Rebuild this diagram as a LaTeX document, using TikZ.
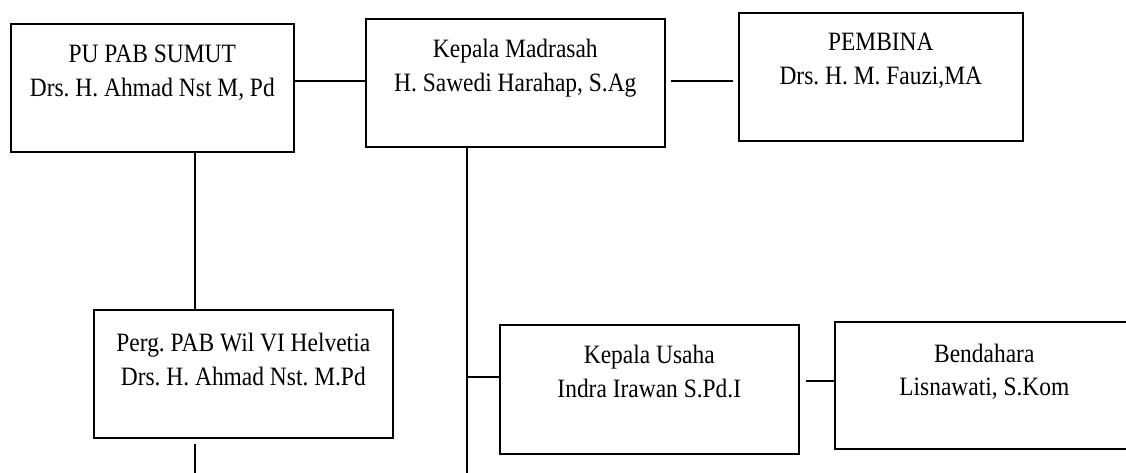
\documentclass[tikz,border=0pt]{standalone}
\usepackage{fontspec}
\setmainfont{Liberation Serif}[FakeStretch=0.885]
\frenchspacing
\newcommand{\orgtext}[4][39pt]{\parbox[c][#3][t]{#2}{\centering\rule{0pt}{#1}#4}}
\begin{document}
\begin{tikzpicture}[x=1pt,y=-1pt,
  orgbox/.style={draw,line width=1.6pt,inner sep=0pt,anchor=north west,font=\fontsize{26.5}{33.6}\selectfont},
  link/.style={line width=1.6pt}]
\useasboundingbox (0,0) rectangle (1126,473);
\node[orgbox](pu) at (10,23){\orgtext{283pt}{128pt}{PU PAB SUMUT\\Drs. H. Ahmad Nst M, Pd}};
\node[orgbox](kepala) at (365,18){\orgtext{299pt}{128pt}{Kepala Madrasah\\H. Sawedi Harahap, S.Ag}};
\node[orgbox](pembina) at (738,12){\orgtext[38pt]{284pt}{128pt}{PEMBINA\\Drs. H. M. Fauzi,MA}};
\node[orgbox](perg) at (93,309){\orgtext[42pt]{299pt}{128pt}{Perg. PAB Wil VI Helvetia\\Drs. H. Ahmad Nst. M.Pd}};
\node[orgbox](usaha) at (499,324){\orgtext{299pt}{129pt}{Kepala Usaha\\Indra Irawan S.Pd.I}};
\node[orgbox](bendahara) at (834,321){\orgtext[40.5pt]{299pt}{127pt}{Bendahara\\Lisnawati, S.Kom}};
% free ends at the bottom edge
\coordinate (trunk) at (195,473);
\coordinate (spine) at (467,473);
\coordinate (kepalaL) at ([yshift=2pt]kepala.west);
\coordinate (kepalaR) at ([yshift=2pt]kepala.east);
\coordinate (usahaIn) at ([yshift=12.5pt]usaha.west);
\coordinate (bendIn) at ([yshift=4.5pt]bendahara.west);
\draw[link](pu.east |- kepalaL)--(kepalaL);
\draw[link,shorten <=5pt,shorten >=5pt](kepalaR)--(kepalaR -| pembina.west);
\draw[link](trunk |- pu.south)--(trunk |- perg.north);
\draw[link,shorten <=5pt](trunk |- perg.south)--(trunk);
\draw[link](spine |- kepala.south)--(spine);
\draw[link](usahaIn)--(usahaIn -| spine);
\draw[link,shorten <=6pt](usaha.east |- bendIn)--(bendIn);
\end{tikzpicture}
\end{document}
